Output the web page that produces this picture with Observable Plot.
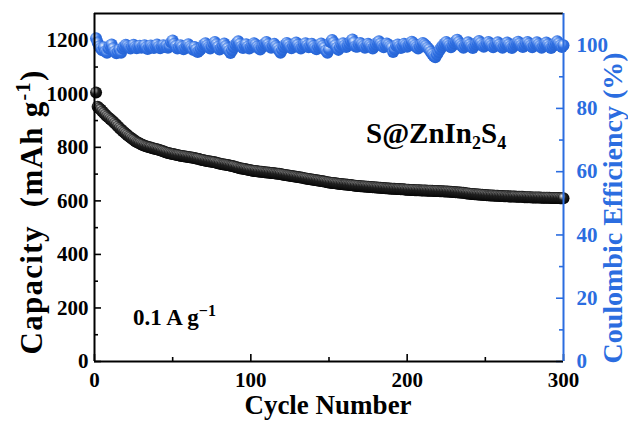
<!DOCTYPE html>
<html><head><meta charset="utf-8">
<script src="https://cdn.jsdelivr.net/npm/d3@7"></script>
<script src="https://cdn.jsdelivr.net/npm/@observablehq/plot@0.6"></script>
<style>body{margin:0;background:#fff} svg{display:block}</style>
</head><body><div id="chart"></div>
<script>
// ---- data ----
const cycles = d3.range(1, 301);
const capacity = [
1005,952,946,941,934,928,922,916,911,906,
901,896,890,884,878,872,867,861,856,851,
846,841,837,832,828,824,820,817,814,811,
809,806,804,802,800,799,797,796,794,793,
791,789,787,785,783,781,779,778,776,775,
774,772,771,770,769,768,767,766,765,764,
763,762,761,760,758,757,756,754,753,752,
750,749,748,747,746,745,744,742,741,740,
738,737,736,735,734,733,731,730,729,727,
726,724,722,721,720,719,718,716,715,714,
713,712,712,711,710,709,709,708,707,706,
706,705,704,704,703,702,701,701,700,699,
698,697,696,695,694,693,692,691,690,689,
688,687,686,685,684,683,682,681,680,679,
678,677,676,675,674,673,672,671,670,669,
668,667,667,666,665,664,663,663,662,661,
661,660,659,659,658,657,657,656,656,655,
655,654,654,653,653,652,652,651,651,650,
650,649,649,648,648,647,647,646,646,645,
645,645,644,644,644,643,643,643,642,642,
642,641,641,641,640,640,640,640,639,639,
639,639,638,638,638,638,637,637,637,637,
636,636,636,635,635,635,634,634,633,633,
632,632,631,631,630,630,629,628,628,627,
626,626,625,625,624,624,623,623,622,622,
621,621,620,620,620,619,619,619,618,618,
618,617,617,617,617,616,616,616,616,615,
615,615,615,615,614,614,614,614,614,613,
613,613,613,613,613,612,612,612,612,612,
612,611,611,611,611,611,611,610,610,610
];
const coulombicEfficiency = [
102.2,100.8,99.6,99.0,98.4,99.3,98.0,97.6,98.9,99.7,
100.2,99.0,98.0,97.4,97.8,98.6,97.6,98.9,99.6,100.1,
99.8,99.3,98.9,99.6,100.1,99.4,99.0,99.5,99.8,99.2,
99.6,100.0,99.3,98.8,99.5,99.9,99.4,99.1,99.7,100.2,
99.5,99.0,99.6,100.0,99.4,99.8,99.2,99.6,100.9,101.5,
100.4,99.7,98.9,99.3,100.0,99.5,98.7,99.2,99.9,100.3,
99.6,99.1,98.5,99.4,98.6,97.8,98.2,98.8,99.5,100.2,
100.6,99.9,99.3,98.9,99.6,100.4,101.0,100.3,99.5,98.6,
99.2,99.8,100.5,99.7,99.0,98.2,97.5,98.4,99.3,100.1,
100.7,101.2,100.4,99.6,99.1,99.8,100.3,99.5,98.9,99.4,
100.0,100.6,100.2,99.5,99.0,98.6,99.3,99.9,100.5,101.0,
100.3,99.6,99.2,99.8,100.4,99.7,99.1,98.4,97.6,98.5,
99.4,100.1,100.7,100.2,99.5,99.0,99.7,100.3,100.8,100.1,
99.4,98.9,99.5,100.2,100.6,99.9,99.3,99.8,100.4,99.7,
99.1,98.7,99.4,100.0,100.5,99.8,99.2,98.3,97.6,98.6,
100.9,101.6,100.8,100.0,99.2,98.5,99.3,100.1,100.6,99.9,
99.4,99.9,100.5,101.2,101.8,100.9,99.6,99.5,100.2,100.7,
100.3,99.7,99.2,99.8,100.4,100.0,99.5,98.9,99.6,100.2,
100.8,101.2,100.5,99.8,99.3,99.9,100.5,100.1,99.6,99.2,
97.8,98.6,99.8,100.2,99.6,99.1,99.8,100.4,100.0,99.5,
99.9,100.5,101.1,100.6,100.0,99.4,98.9,99.6,100.2,100.7,
100.3,99.8,99.2,98.7,97.9,97.2,96.6,96.2,97.0,97.8,
98.6,99.4,100.0,100.5,101.0,100.4,99.8,99.3,99.9,100.6,
101.2,101.7,101.0,100.3,99.7,99.2,99.8,100.4,100.9,100.2,
99.6,99.1,99.7,100.3,100.8,101.3,100.7,100.0,99.5,99.9,
100.5,101.0,100.4,99.8,99.3,99.8,100.4,100.9,100.2,99.6,
99.2,99.7,100.3,100.8,100.2,99.6,99.1,99.6,100.2,100.7,
101.1,100.5,99.9,99.4,99.9,100.5,101.0,100.4,99.8,99.3,
99.8,100.4,100.9,100.3,99.7,99.2,99.7,100.3,100.8,100.2,
99.6,99.1,99.6,100.2,100.7,101.2,100.6,99.9,99.4,100.0
];
const xTicks = [0, 100, 200, 300];
const xMinorTicks = [50, 150, 250];
const capTicks = [0, 200, 400, 600, 800, 1000, 1200];
const capMinorTicks = [100, 300, 500, 700, 900, 1100];
const ceTicks = [0, 20, 40, 60, 80, 100];
const ceMinorTicks = [10, 30, 50, 70, 90];
const xMax = 300, capMax = 1300, ceMax = 110;

// ---- layout / style ----
const W = 628, H = 421, mt = 13, mb = 60, ml = 94, mr = 65;
const BLUE = "#2b6de0";
const FONT = "Liberation Serif, Times New Roman, serif";
const k = capMax / ceMax;                 // CE -> capacity scale factor
const capPerPx = capMax / (H - mt - mb);
const cycPerPx = xMax / (W - ml - mr);
const major = 7, minor = 4;
const TICKFONT = 21;

const rows = cycles.map((c, i) => ({cycle: c, cap: capacity[i], ce: coulombicEfficiency[i]}));

const plot = Plot.plot({
  width: W, height: H,
  marginTop: mt, marginBottom: mb, marginLeft: ml, marginRight: mr,
  x: {domain: [0, xMax]},
  y: {domain: [0, capMax]},
  style: {fontFamily: FONT, fontWeight: "bold", fontSize: "21px", background: "#fff", color: "#000"},
  marks: [
    // ticks (inward)
    Plot.ruleX(xTicks, {x: d => d, y1: 0, y2: major * capPerPx, stroke: "#000", strokeWidth: 1.6}),
    Plot.ruleX(xMinorTicks, {x: d => d, y1: 0, y2: minor * capPerPx, stroke: "#000", strokeWidth: 1.6}),
    Plot.ruleY(capTicks, {y: d => d, x1: 0, x2: major * cycPerPx, stroke: "#000", strokeWidth: 1.6}),
    Plot.ruleY(capMinorTicks, {y: d => d, x1: 0, x2: minor * cycPerPx, stroke: "#000", strokeWidth: 1.6}),
    Plot.ruleY(ceTicks, {y: d => d * k, x1: xMax - major * cycPerPx, x2: xMax, stroke: BLUE, strokeWidth: 1.6}),
    Plot.ruleY(ceMinorTicks, {y: d => d * k, x1: xMax - minor * cycPerPx, x2: xMax, stroke: BLUE, strokeWidth: 1.6}),
    // data
    Plot.dot(rows, {x: "cycle", y: "cap", r: 6, fill: "url(#ballK)"}),
    Plot.dot(rows, {x: "cycle", y: d => d.ce * k, r: 6, fill: "url(#ballB)"}),
    // frame
    Plot.ruleY([capMax], {stroke: "#000", strokeWidth: 2}),
    Plot.ruleY([0], {stroke: "#000", strokeWidth: 2}),
    Plot.ruleX([0], {stroke: "#000", strokeWidth: 2}),
    Plot.ruleX([xMax], {stroke: BLUE, strokeWidth: 2}),
    // tick labels
    Plot.axisX(xTicks, {tickSize: 0, tickPadding: 11, label: null, fontSize: TICKFONT, tickFormat: d => String(d)}),
    Plot.axisY(capTicks, {anchor: "left", tickSize: 0, tickPadding: 6, label: null, fontSize: TICKFONT, tickFormat: d => String(d)}),
    Plot.axisY(ceTicks.map(d => d * k), {anchor: "right", tickSize: 0, tickPadding: 13, label: null,
      fontSize: TICKFONT, color: BLUE, tickFormat: d => String(Math.round(d / k))})
  ]
});

const svg = d3.select(plot);
const defs = svg.insert("defs", ":first-child");
function ball(id, stops) {
  const g = defs.append("radialGradient").attr("id", id)
    .attr("cx", 0.42).attr("cy", 0.4).attr("r", 0.62).attr("fx", 0.34).attr("fy", 0.3);
  stops.forEach(([o, c]) => g.append("stop").attr("offset", o).attr("stop-color", c));
}
ball("ballK", [[0, "#f2f2f2"], [0.2, "#a0a0a0"], [0.5, "#222"], [1, "#000"]]);
ball("ballB", [[0, "#eef4ff"], [0.25, "#8fb5f5"], [0.6, "#2f6fe2"], [1, "#2462d2"]]);

const ann = svg.append("g").attr("font-family", FONT).attr("font-weight", "bold").attr("text-anchor", "start");
// chart label
const t1 = ann.append("text").attr("x", 366).attr("y", 143).attr("font-size", 29).attr("fill", "#000");
t1.append("tspan").text("S@ZnIn");
t1.append("tspan").attr("font-size", 18).attr("dy", 6).text("2");
t1.append("tspan").attr("dy", -6).text("S");
t1.append("tspan").attr("font-size", 18).attr("dy", 6).text("4");
// current density
const t2 = ann.append("text").attr("x", 133).attr("y", 325).attr("font-size", 23).attr("fill", "#000");
t2.append("tspan").text("0.1 A g");
t2.append("tspan").attr("font-size", 16).attr("dy", -9).text("\u22121");
// x title
ann.append("text").attr("x", 328).attr("y", 414).attr("text-anchor", "middle")
  .attr("font-size", 27).attr("fill", "#000").text("Cycle Number");
// left title
const t3 = ann.append("text").attr("transform", "translate(42,212) rotate(-90)")
  .attr("text-anchor", "middle").attr("font-size", 31).attr("letter-spacing", 1.3).attr("fill", "#000");
t3.append("tspan").text("Capacity\u00a0 (mAh g");
t3.append("tspan").attr("font-size", 20).attr("dy", -12).text("-1");
t3.append("tspan").attr("dy", 12).text(")");
// right title
ann.append("text").attr("transform", "translate(622,208) rotate(-90)")
  .attr("text-anchor", "middle").attr("font-size", 28).attr("fill", BLUE)
  .text("Coulombic Efficiency (%)");

document.getElementById("chart").appendChild(plot);
</script>
</body></html>
